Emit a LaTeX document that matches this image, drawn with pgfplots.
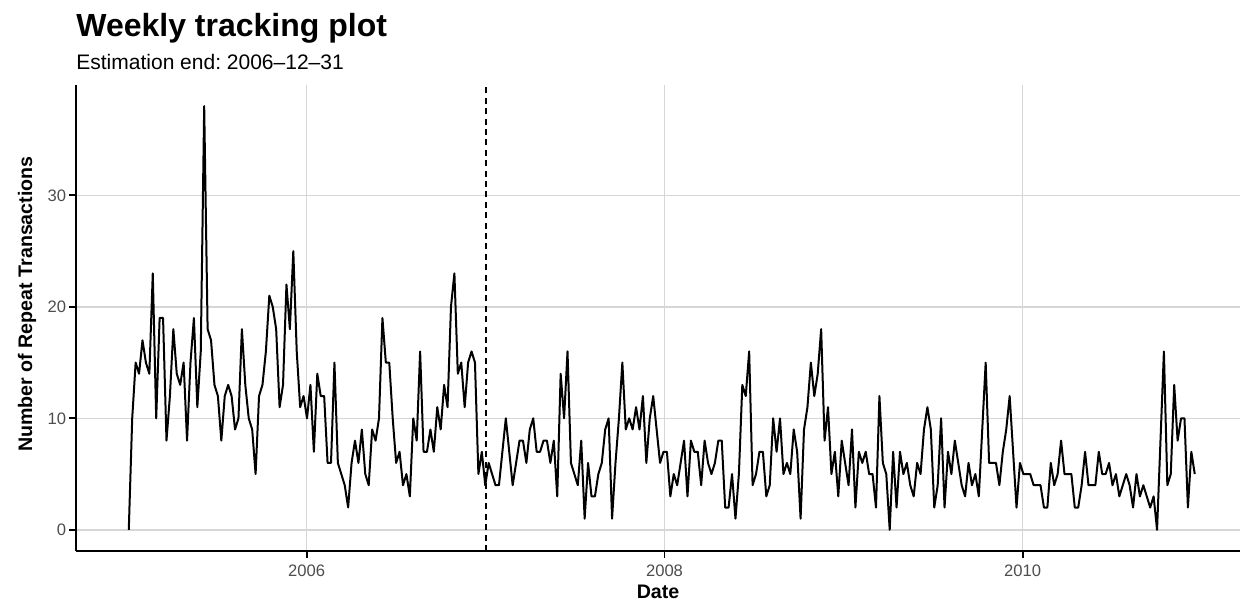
\documentclass[border=0pt]{standalone}
\usepackage{fontspec}
\setmainfont{Liberation Sans}
\usepackage{pgfplots}
\pgfplotsset{compat=1.18}
\definecolor{gridgray}{RGB}{214,214,214}
\definecolor{ticktext}{RGB}{77,77,77}

\begin{document}
\begin{tikzpicture}
\useasboundingbox (-38pt,-27pt) rectangle (586pt,275.5pt);
\begin{axis}[
  at={(0,0)}, anchor=south west,
  scale only axis, width=582pt, height=233pt,
  xmin=-15.4, xmax=324.2, ymin=-1.9, ymax=39.9,
  axis lines=left, axis line style={-, line width=0.9pt, black},
  xtick={51.9,156.3,260.8}, xticklabels={2006,2008,2010},
  ytick={0,10,20,30},
  tick align=outside, major tick length=3.3pt,
  tick style={black, line width=0.9pt},
  grid=major, major grid style={gridgray, line width=0.7pt},
  ticklabel style={font=\fontsize{8.3}{10}\selectfont, text=ticktext},
  yticklabel style={inner sep=1.5pt},
  /pgf/number format/assume math mode=true,
  xlabel={\textbf{Date}}, ylabel={\textbf{Number of Repeat Transactions}},
  label style={font=\fontsize{9.8}{12}\selectfont},
  xlabel style={at={(axis description cs:0.5,-0.1009)}, anchor=base},
  ylabel style={at={(axis description cs:-0.0378,0.530)}, anchor=base},
]
% weekly repeat transactions, week 0 = first week of 2005
\addplot[black, line width=1pt, line join=round, mark=none] coordinates {
(0,0) (1,10) (2,15) (3,14) (4,17) (5,15) (6,14) (7,23) (8,10) (9,19)
(10,19) (11,8) (12,12) (13,18) (14,14) (15,13) (16,15) (17,8) (18,15) (19,19)
(20,11) (21,16) (22,38) (23,18) (24,17) (25,13) (26,12) (27,8) (28,12) (29,13)
(30,12) (31,9) (32,10) (33,18) (34,13) (35,10) (36,9) (37,5) (38,12) (39,13)
(40,16) (41,21) (42,20) (43,18) (44,11) (45,13) (46,22) (47,18) (48,25) (49,16)
(50,11) (51,12) (52,10) (53,13) (54,7) (55,14) (56,12) (57,12) (58,6) (59,6)
(60,15) (61,6) (62,5) (63,4) (64,2) (65,6) (66,8) (67,6) (68,9) (69,5)
(70,4) (71,9) (72,8) (73,10) (74,19) (75,15) (76,15) (77,10) (78,6) (79,7)
(80,4) (81,5) (82,3) (83,10) (84,8) (85,16) (86,7) (87,7) (88,9) (89,7)
(90,11) (91,9) (92,13) (93,11) (94,20) (95,23) (96,14) (97,15) (98,11) (99,15)
(100,16) (101,15) (102,5) (103,7) (104,4) (105,6) (106,5) (107,4) (108,4) (109,7)
(110,10) (111,7) (112,4) (113,6) (114,8) (115,8) (116,6) (117,9) (118,10) (119,7)
(120,7) (121,8) (122,8) (123,6) (124,8) (125,3) (126,14) (127,10) (128,16) (129,6)
(130,5) (131,4) (132,8) (133,1) (134,6) (135,3) (136,3) (137,5) (138,6) (139,9)
(140,10) (141,1) (142,6) (143,10) (144,15) (145,9) (146,10) (147,9) (148,11) (149,9)
(150,12) (151,6) (152,10) (153,12) (154,9) (155,6) (156,7) (157,7) (158,3) (159,5)
(160,4) (161,6) (162,8) (163,3) (164,8) (165,7) (166,7) (167,4) (168,8) (169,6)
(170,5) (171,6) (172,8) (173,8) (174,2) (175,2) (176,5) (177,1) (178,5) (179,13)
(180,12) (181,16) (182,4) (183,5) (184,7) (185,7) (186,3) (187,4) (188,10) (189,7)
(190,10) (191,5) (192,6) (193,5) (194,9) (195,7) (196,1) (197,9) (198,11) (199,15)
(200,12) (201,14) (202,18) (203,8) (204,11) (205,5) (206,7) (207,3) (208,8) (209,6)
(210,4) (211,9) (212,2) (213,7) (214,6) (215,7) (216,5) (217,5) (218,2) (219,12)
(220,6) (221,5) (222,0) (223,7) (224,2) (225,7) (226,5) (227,6) (228,4) (229,3)
(230,6) (231,5) (232,9) (233,11) (234,9) (235,2) (236,4) (237,10) (238,2) (239,7)
(240,5) (241,8) (242,6) (243,4) (244,3) (245,6) (246,4) (247,5) (248,3) (249,9)
(250,15) (251,6) (252,6) (253,6) (254,4) (255,7) (256,9) (257,12) (258,7) (259,2)
(260,6) (261,5) (262,5) (263,5) (264,4) (265,4) (266,4) (267,2) (268,2) (269,6)
(270,4) (271,5) (272,8) (273,5) (274,5) (275,5) (276,2) (277,2) (278,4) (279,7)
(280,4) (281,4) (282,4) (283,7) (284,5) (285,5) (286,6) (287,4) (288,5) (289,3)
(290,4) (291,5) (292,4) (293,2) (294,5) (295,3) (296,4) (297,3) (298,2) (299,3)
(300,0) (301,8) (302,16) (303,4) (304,5) (305,13) (306,8) (307,10) (308,10) (309,2)
(310,7) (311,5)
};
% estimation end
\addplot[black, line width=0.8pt, dash pattern=on 3pt off 2.2pt] coordinates {(104.2,-1.9) (104.2,39.9)};
\end{axis}
\node[anchor=base west, inner sep=0pt, font=\fontsize{16}{19}\selectfont\bfseries] at (0pt,257pt) {Weekly tracking plot};
\node[anchor=base west, inner sep=0pt, font=\fontsize{10.5}{13}\selectfont] at (0pt,240.5pt) {Estimation end:\ 2006--12--31};
\end{tikzpicture}
\end{document}
